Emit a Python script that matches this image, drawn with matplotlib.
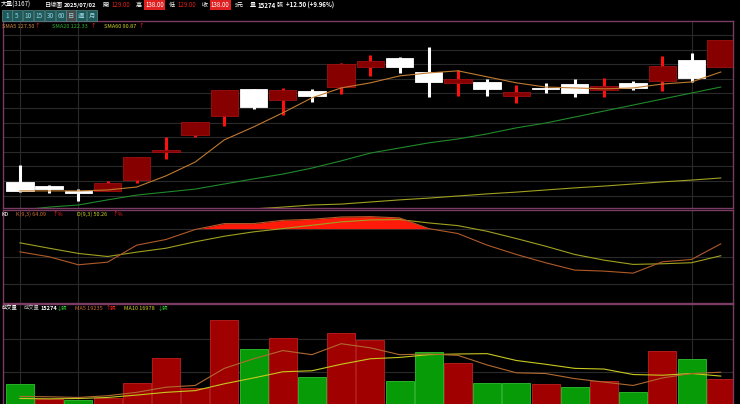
import matplotlib
matplotlib.use("Agg")
import matplotlib.pyplot as plt
from matplotlib.patches import Rectangle
import numpy as np

plt.rcParams['font.family'] = ['Noto Sans CJK TC', 'DejaVu Sans']

opens  = [90.7,89.3,87.7,87.7,91.3,100.7,106.3,112.7,121.7,118.0,121.0,122.3,129.0,132.0,127.3,123.7,124.0,119.3,122.0,123.3,121.3,123.7,124.3,131.3,129.0]
highs  = [96.3,89.7,88.3,91.0,99.0,105.7,110.7,121.3,121.7,122.0,121.7,130.3,133.0,132.3,135.7,128.0,125.0,123.0,123.7,125.0,125.3,124.3,132.7,133.7,138.0]
lows   = [87.3,87.0,84.3,87.7,90.3,98.3,105.7,109.3,115.0,113.0,117.3,120.0,126.0,127.0,119.0,119.3,119.3,117.0,120.3,119.0,119.0,121.3,121.0,124.0,129.0]
closes = [87.7,88.3,87.0,90.3,99.0,101.3,110.7,121.3,115.7,121.3,119.3,130.0,131.0,129.0,124.0,125.0,121.7,120.7,121.7,120.3,122.7,122.0,129.3,125.3,138.0]
sma5  = [87.7,87.7,87.7,88.0,89.0,92.7,97.3,104.7,109.0,113.7,118.7,122.0,123.7,126.0,127.0,127.7,125.7,123.7,122.3,122.0,121.7,122.0,123.3,124.0,127.3]
sma20 = [81.3,82.3,83.0,84.7,86.3,87.3,88.3,90.0,91.7,93.3,95.3,97.7,100.3,102.0,103.7,105.0,106.7,108.7,110.3,112.3,114.3,116.3,118.3,120.3,122.3]
sma60 = [None]*8 + [81.7,82.3,83.0,83.3,84.0,84.7,85.3,86.0,86.7,87.3,88.0,88.7,89.3,90.0,90.7,91.3,92.0]
k_vals = [55.0,49.7,41.1,43.9,62.2,68.3,79.0,85.4,85.4,88.9,90.0,92.5,92.9,91.5,80.0,74.7,62.2,52.2,43.3,35.4,34.3,32.1,44.3,46.8,63.6]
d_vals = [64.7,58.9,53.3,50.0,54.7,58.9,65.8,71.8,76.5,80.0,83.6,87.2,89.3,89.7,86.1,83.2,77.1,69.3,61.1,52.2,46.1,41.5,42.2,43.3,50.8]
volumes = [12260,3620,2810,4220,12860,27740,9850,49850,32760,39200,16280,42010,38390,13870,30950,24520,13070,12660,12060,10450,13870,7440,31560,26730,15274]
vol_up = [0,1,0,1,1,1,1,1,0,1,0,1,1,0,0,1,0,0,1,0,1,0,1,0,1]
vma5  = [5030,4820,4420,5430,7440,10450,11460,21510,27140,31960,29550,35980,33570,29550,29950,29150,23520,18900,18490,15480,13470,11460,15880,18490,19235]
vma10 = [3820,3620,3820,4420,5830,7440,8440,12460,15880,19500,20100,23920,27140,27940,29550,29950,30150,26130,23920,21510,21110,17890,17490,18490,16978]

W, H = 740, 404
fig = plt.figure(figsize=(7.4, 4.04), dpi=100, facecolor='black')
def ax_px(x0, y0, x1, y1):
    return fig.add_axes([x0/W, 1-y1/H, (x1-x0)/W, (y1-y0)/H])
def t(x, y, s, c='white', size=4.4, **kw):
    fig.text(x/W, 1-y/H, s, color=c, fontsize=size, va='center', ha='left', **kw)

n = len(opens)
xs = np.arange(n)
xl = (-0.58, 24.42)
border = '#7a3c62'
gridc = '#2a2a2a'

def style(ax):
    ax.set_facecolor('black')
    ax.set_xlim(*xl)
    ax.set_xticks([]); ax.set_yticks([])
    for s in ax.spines.values():
        s.set_color(border); s.set_linewidth(1)
    for xi in (0, 2, 23):
        ax.axvline(xi, color=gridc, lw=0.8, zorder=0)

# main
ax = ax_px(3, 21, 733, 208)
style(ax)
ax.set_ylim(82.0, 144.3)
for p in np.arange(139.67, 82, -4.87):
    ax.axhline(p, color=gridc, lw=0.8, zorder=0)
ax.plot(xs, sma20, color='#1f8a2a', lw=0.8, zorder=2)
ax.plot(xs[8:], sma60[8:], color='#a0a020', lw=0.8, zorder=2)
for i in range(n):
    o, h, l, c = opens[i], highs[i], lows[i], closes[i]
    up = c >= o
    wc = '#ff1010' if up else 'white'
    bc = '#870000' if up else 'white'
    ax.plot([i, i], [l, h], color=wc, lw=2.2, solid_capstyle='butt', zorder=3)
    lo, hi = min(o, c), max(o, c)
    ax.add_patch(Rectangle((i-0.47, lo), 0.94, max(hi-lo, 0.35), facecolor=bc,
                           edgecolor=('#a01010' if up else 'white'), lw=0.6, zorder=4))
ax.plot(xs, sma5, color='#c07a30', lw=0.8, zorder=5)

# KD
ak = ax_px(3, 210, 733, 303)
style(ak)
ak.set_ylim(0, 100)
for g in (80, 50, 20):
    ak.axhline(g, color=gridc, lw=0.8, zorder=0)
kk = np.array(k_vals)
ak.fill_between(xs, 80, kk, where=kk > 80, interpolate=True, color='#ff1a0a', lw=0, zorder=2)
ak.plot(xs, d_vals, color='#a0a020', lw=0.8, zorder=3)
ak.plot(xs, k_vals, color='#b05a28', lw=0.8, zorder=3)

# volume
av = ax_px(3, 304, 733, 405)
style(av)
av.set_ylim(0, 59300)
for g in (19500, 39000):
    av.axhline(g, color=gridc, lw=0.8, zorder=0)
for i in range(n):
    fc = '#a00000' if vol_up[i] else '#079c07'
    ec = '#c02020' if vol_up[i] else '#30c030'
    av.add_patch(Rectangle((i-0.48, 0), 0.96, volumes[i], facecolor=fc, edgecolor=ec, lw=0.6, zorder=2))
av.plot(xs, vma10, color='#c8c820', lw=0.8, zorder=3)
av.plot(xs, vma5, color='#b06a30', lw=0.8, zorder=3)

# header
t(1, 5, '大量(3167)')
t(45, 5, '日線圖')
t(64, 5, '2025/07/02', weight='bold', size=4.2)
t(102, 5, '開'); t(111, 5, '129.00', c='#e02020')
t(136, 5, '高'); t(145, 5, '138.00', bbox=dict(fc='#e02020', ec='none', pad=0.6))
t(169, 5, '低'); t(177, 5, '129.00', c='#e02020')
t(202, 5, '收'); t(211, 5, '138.00', bbox=dict(fc='#e02020', ec='none', pad=0.6))
t(235, 5, 's元')
t(250, 5, '量'); t(257, 5, '15274', weight='bold'); t(277, 5, '張')
t(286, 5, '+12.50 (+9.96%)', weight='bold')
btns = ['1', '5', '10', '15', '30', '60', '日', '週', '月']
bx = [2, 12, 23, 34, 45, 56, 66, 76, 87]
for b, x in zip(btns, bx):
    w = 10
    fig.patches.append(Rectangle((x/W, 1-21/H), w/W, 11/H, transform=fig.transFigure,
                                 facecolor='#4a4a4a' if b == '日' else '#1e5a5a',
                                 edgecolor='#5a8a8a', lw=0.5))
    fig.text((x+w/2)/W, 1-15.5/H, b, color='#9ad0e0', fontsize=4.6, ha='center', va='center')

t(2, 26, 'SMA5 127.50', c='#d08a40', size=4); t(34, 26, '↑', c='#ff2020', size=4)
t(52, 26, 'SMA20 122.33', c='#30b030', size=4); t(90, 26, '↑', c='#ff2020', size=4)
t(104, 26, 'SMA60 90.87', c='#d0d020', size=4); t(138, 26, '↑', c='#ff2020', size=4)

t(2, 214, 'KD', size=4)
t(16, 214, 'K(9,3) 64.09', c='#d07030', size=4); t(52, 214, '↑%', c='#ff2020', size=4)
t(77, 214, 'D(9,3) 50.26', c='#d0d020', size=4); t(112, 214, '↑%', c='#ff2020', size=4)

t(2, 308, '成交量', size=3.8)
t(24, 308, '成交量', c='#c0c0c0', size=3.8); t(41, 308, '15274', weight='bold', size=4); t(57, 308, '↓張', c='#30d030', size=3.8)
t(75, 308, 'MA5 19235', c='#d07030', size=4); t(106, 308, '↑張', c='#ff2020', size=3.8)
t(124, 308, 'MA10 16978', c='#d0d020', size=4); t(158, 308, '↓張', c='#30d030', size=3.8)

fig.savefig('out.png', dpi=100, facecolor='black')
